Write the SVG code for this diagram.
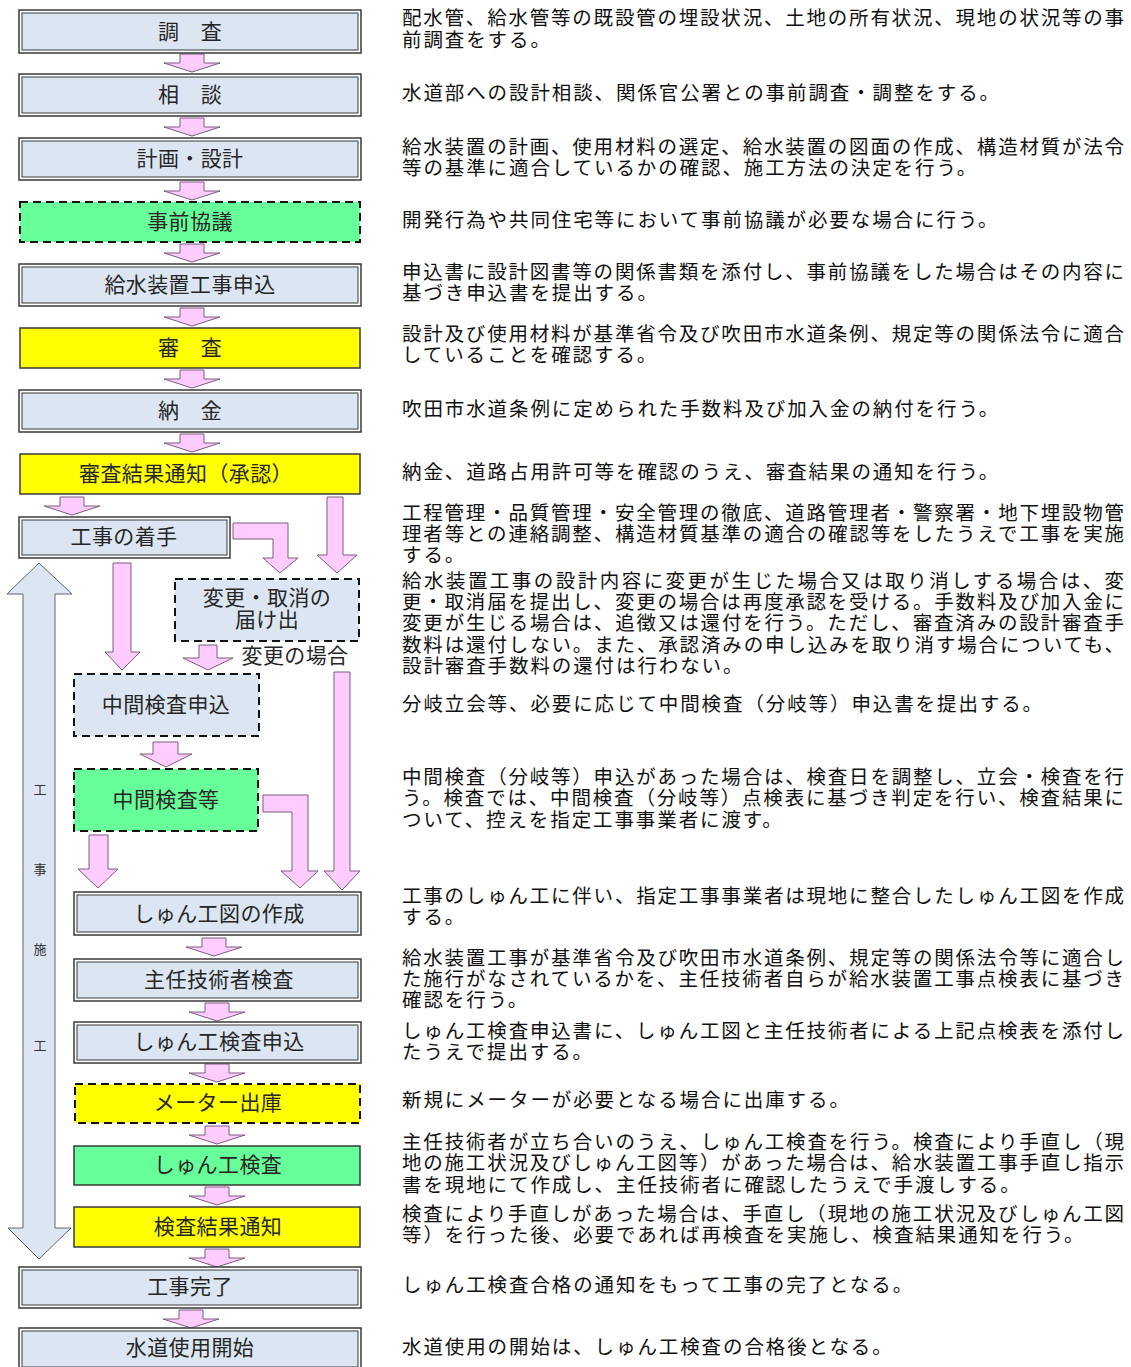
<svg xmlns="http://www.w3.org/2000/svg" width="1131" height="1367" viewBox="0 0 1131 1367">
<style>
.o{fill:#ffffff;stroke:#3a3a3a;stroke-width:1.5}
.i{fill:#dce6f2;stroke:#3a3a3a;stroke-width:1}
.s{stroke:#3a3a3a;stroke-width:1.5}
.d{stroke:#111;stroke-width:2;stroke-dasharray:8 5}
.b{fill:#dce6f2}.g{fill:#66ff99}.y{fill:#ffff00}
.l{font-family:"Noto Sans CJK JP","Noto Sans",sans-serif;font-size:21px;letter-spacing:0.4px;fill:#262626;text-anchor:middle}
.t{font-family:"Noto Sans CJK JP","Noto Sans",sans-serif;font-size:19.5px;fill:#111;letter-spacing:1.9px}
.v{font-family:"Noto Sans CJK JP","Noto Sans",sans-serif;font-size:13px;fill:#333;text-anchor:middle}
.p{fill:#ffccff;stroke:#7a5c7a;stroke-width:1}
.bl{fill:#dce6f2;stroke:#666;stroke-width:1}
</style>
<defs>
<path id="a" d="M-12,0 H12 V9 H28 L0,18 L-28,9 H-12 Z"/>
</defs>
<g id="connectors">
<use href="#a" class="p" transform="translate(192,54)"/>
<use href="#a" class="p" transform="translate(192,118)"/>
<use href="#a" class="p" transform="translate(192,182)"/>
<use href="#a" class="p" transform="translate(192,244)"/>
<use href="#a" class="p" transform="translate(192,308)"/>
<use href="#a" class="p" transform="translate(192,370)"/>
<use href="#a" class="p" transform="translate(192,434)"/>
<use href="#a" class="p" transform="translate(72,497)"/>
<use href="#a" class="p" transform="translate(214,938)"/>
<use href="#a" class="p" transform="translate(217,1003)"/>
<use href="#a" class="p" transform="translate(217,1064)"/>
<use href="#a" class="p" transform="translate(217,1126)"/>
<use href="#a" class="p" transform="translate(217,1187)"/>
<use href="#a" class="p" transform="translate(217,1249)"/>
<use href="#a" class="p" transform="translate(191,1310)"/>
<path class="p" d="M327,497 H343 V555 H357 L337,573 L317,555 H327 Z"/>
<path class="p" d="M233,523 H288 V558 H298 L280,573 L263,558 H273 V539 H233 Z"/>
<path class="p" d="M113,563 H131 V652 H140 L122,670 L105,652 H113 Z"/>
<path class="p" d="M199,645 H217 V658 H233 L208,670 L183,658 H199 Z"/>
<path class="p" d="M334,672 H350 V871 H360 L342,890 L324,871 H334 Z"/>
<path class="p" d="M153,742 H178 V754 H192 L166,767 L140,754 H153 Z"/>
<path class="p" d="M263,795 H308 V871 H318 L300,888 L281,871 H292 V812 H263 Z"/>
<path class="p" d="M89,835 H108 V869 H118 L98,888 L78,869 H89 Z"/>
<path class="bl" d="M39,563 L72,594 H55 V1228 H71 L39,1259 L8,1228 H23 V594 H7 Z"/>
</g>
<g id="period-label">
<text class="v" x="40" y="794">工</text>
<text class="v" x="40" y="874">事</text>
<text class="v" x="40" y="954">施</text>
<text class="v" x="40" y="1050">工</text>
</g>
<g id="n1"><rect class="o" x="19" y="10" width="342" height="43"/><rect class="i" x="22" y="13" width="336" height="37"/><text class="l" x="190" y="39">調　査</text></g>
<g id="n2"><rect class="o" x="19" y="74" width="342" height="42"/><rect class="i" x="22" y="77" width="336" height="36"/><text class="l" x="190" y="102">相　談</text></g>
<g id="n3"><rect class="o" x="19" y="138" width="342" height="42"/><rect class="i" x="22" y="141" width="336" height="36"/><text class="l" x="190" y="166">計画・設計</text></g>
<g id="n4"><rect class="g d" x="20" y="202" width="340" height="40"/><text class="l" x="190" y="229">事前協議</text></g>
<g id="n5"><rect class="o" x="19" y="264" width="342" height="42"/><rect class="i" x="22" y="267" width="336" height="36"/><text class="l" x="190" y="292">給水装置工事申込</text></g>
<g id="n6"><rect class="y s" x="20" y="328" width="340" height="40"/><text class="l" x="190" y="355">審　査</text></g>
<g id="n7"><rect class="o" x="19" y="390" width="342" height="42"/><rect class="i" x="22" y="393" width="336" height="36"/><text class="l" x="190" y="418">納　金</text></g>
<g id="n8"><rect class="y s" x="20" y="454" width="340" height="40"/><text class="l" x="186" y="481">審査結果通知（承認）</text></g>
<g id="n9"><rect class="o" x="19" y="517" width="211" height="41"/><rect class="i" x="22" y="520" width="205" height="35"/><text class="l" x="124" y="544">工事の着手</text></g>
<g id="n10"><rect class="b d" x="175" y="579" width="184" height="62"/><text class="l" x="267" y="605">変更・取消の</text><text class="l" x="267" y="627">届け出</text></g>
<text class="l" x="295" y="663">変更の場合</text>
<g id="n11"><rect class="b d" x="74" y="674" width="185" height="62"/><text class="l" x="166" y="712">中間検査申込</text></g>
<g id="n12"><rect class="g d" x="74" y="769" width="184" height="62"/><text class="l" x="166" y="807">中間検査等</text></g>
<g id="n13"><rect class="o" x="74" y="892" width="287" height="43"/><rect class="i" x="77" y="895" width="281" height="37"/><text class="l" x="219" y="921">しゅん工図の作成</text></g>
<g id="n14"><rect class="o" x="74" y="959" width="287" height="42"/><rect class="i" x="77" y="962" width="281" height="36"/><text class="l" x="219" y="987">主任技術者検査</text></g>
<g id="n15"><rect class="o" x="74" y="1022" width="287" height="41"/><rect class="i" x="77" y="1025" width="281" height="35"/><text class="l" x="219" y="1049">しゅん工検査申込</text></g>
<g id="n16"><rect class="y d" x="75" y="1084" width="285" height="39"/><text class="l" x="218" y="1110">メーター出庫</text></g>
<g id="n17"><rect class="g s" x="74" y="1146" width="286" height="39"/><text class="l" x="218" y="1172">しゅん工検査</text></g>
<g id="n18"><rect class="y s" x="74" y="1207" width="286" height="40"/><text class="l" x="218" y="1234">検査結果通知</text></g>
<g id="n19"><rect class="o" x="19" y="1267" width="342" height="41"/><rect class="i" x="22" y="1270" width="336" height="35"/><text class="l" x="190" y="1294">工事完了</text></g>
<g id="n20"><rect class="o" x="19" y="1328" width="342" height="42"/><rect class="i" x="22" y="1331" width="336" height="36"/><text class="l" x="190" y="1355">水道使用開始</text></g>
<g id="descriptions">
<text class="t" x="402" y="25" textLength="724" lengthAdjust="spacing">配水管、給水管等の既設管の埋設状況、土地の所有状況、現地の状況等の事</text>
<text class="t" x="402" y="47">前調査をする。</text>
<text class="t" x="402" y="100">水道部への設計相談、関係官公署との事前調査・調整をする。</text>
<text class="t" x="402" y="154" textLength="724" lengthAdjust="spacing">給水装置の計画、使用材料の選定、給水装置の図面の作成、構造材質が法令</text>
<text class="t" x="402" y="175">等の基準に適合しているかの確認、施工方法の決定を行う。</text>
<text class="t" x="402" y="227">開発行為や共同住宅等において事前協議が必要な場合に行う。</text>
<text class="t" x="402" y="279" textLength="724" lengthAdjust="spacing">申込書に設計図書等の関係書類を添付し、事前協議をした場合はその内容に</text>
<text class="t" x="402" y="300">基づき申込書を提出する。</text>
<text class="t" x="402" y="341" textLength="724" lengthAdjust="spacing">設計及び使用材料が基準省令及び吹田市水道条例、規定等の関係法令に適合</text>
<text class="t" x="402" y="362">していることを確認する。</text>
<text class="t" x="402" y="416">吹田市水道条例に定められた手数料及び加入金の納付を行う。</text>
<text class="t" x="402" y="479">納金、道路占用許可等を確認のうえ、審査結果の通知を行う。</text>
<text class="t" x="402" y="520" textLength="724" lengthAdjust="spacing">工程管理・品質管理・安全管理の徹底、道路管理者・警察署・地下埋設物管</text>
<text class="t" x="402" y="541" textLength="724" lengthAdjust="spacing">理者等との連絡調整、構造材質基準の適合の確認等をしたうえで工事を実施</text>
<text class="t" x="402" y="562">する。</text>
<text class="t" x="402" y="588" textLength="724" lengthAdjust="spacing">給水装置工事の設計内容に変更が生じた場合又は取り消しする場合は、変</text>
<text class="t" x="402" y="609" textLength="724" lengthAdjust="spacing">更・取消届を提出し、変更の場合は再度承認を受ける。手数料及び加入金に</text>
<text class="t" x="402" y="630" textLength="724" lengthAdjust="spacing">変更が生じる場合は、追徴又は還付を行う。ただし、審査済みの設計審査手</text>
<text class="t" x="402" y="652" textLength="724" lengthAdjust="spacing">数料は還付しない。また、承認済みの申し込みを取り消す場合についても、</text>
<text class="t" x="402" y="673">設計審査手数料の還付は行わない。</text>
<text class="t" x="402" y="711">分岐立会等、必要に応じて中間検査（分岐等）申込書を提出する。</text>
<text class="t" x="402" y="784" textLength="724" lengthAdjust="spacing">中間検査（分岐等）申込があった場合は、検査日を調整し、立会・検査を行</text>
<text class="t" x="402" y="805" textLength="724" lengthAdjust="spacing">う。検査では、中間検査（分岐等）点検表に基づき判定を行い、検査結果に</text>
<text class="t" x="402" y="827">ついて、控えを指定工事事業者に渡す。</text>
<text class="t" x="402" y="903" textLength="724" lengthAdjust="spacing">工事のしゅん工に伴い、指定工事事業者は現地に整合したしゅん工図を作成</text>
<text class="t" x="402" y="924">する。</text>
<text class="t" x="402" y="965" textLength="724" lengthAdjust="spacing">給水装置工事が基準省令及び吹田市水道条例、規定等の関係法令等に適合し</text>
<text class="t" x="402" y="986" textLength="724" lengthAdjust="spacing">た施行がなされているかを、主任技術者自らが給水装置工事点検表に基づき</text>
<text class="t" x="402" y="1007">確認を行う。</text>
<text class="t" x="402" y="1038" textLength="724" lengthAdjust="spacing">しゅん工検査申込書に、しゅん工図と主任技術者による上記点検表を添付し</text>
<text class="t" x="402" y="1059">たうえで提出する。</text>
<text class="t" x="402" y="1107">新規にメーターが必要となる場合に出庫する。</text>
<text class="t" x="402" y="1149" textLength="724" lengthAdjust="spacing">主任技術者が立ち合いのうえ、しゅん工検査を行う。検査により手直し（現</text>
<text class="t" x="402" y="1170" textLength="724" lengthAdjust="spacing">地の施工状況及びしゅん工図等）があった場合は、給水装置工事手直し指示</text>
<text class="t" x="402" y="1192">書を現地にて作成し、主任技術者に確認したうえで手渡しする。</text>
<text class="t" x="402" y="1221" textLength="724" lengthAdjust="spacing">検査により手直しがあった場合は、手直し（現地の施工状況及びしゅん工図</text>
<text class="t" x="402" y="1242">等）を行った後、必要であれば再検査を実施し、検査結果通知を行う。</text>
<text class="t" x="402" y="1292">しゅん工検査合格の通知をもって工事の完了となる。</text>
<text class="t" x="402" y="1354">水道使用の開始は、しゅん工検査の合格後となる。</text>
</g>
</svg>
